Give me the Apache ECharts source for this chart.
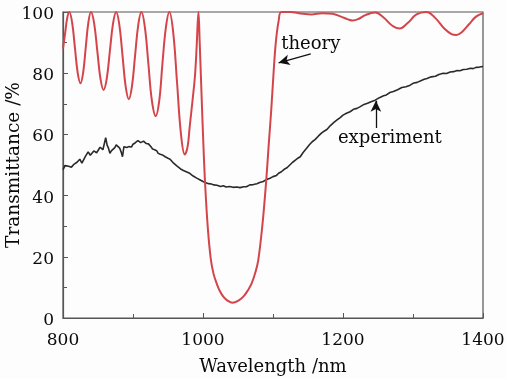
<!DOCTYPE html>
<html>
<head>
<meta charset="utf-8">
<script src="https://cdn.jsdelivr.net/npm/echarts@6/dist/echarts.min.js"></script>
<style>
  html, body { margin: 0; padding: 0; background: #fdfdfd; }
  #chart { width: 506px; height: 379px; }
</style>
</head>
<body>
<div id="chart"></div>
<script>
// Calculated transmittance spectrum (nm, %)
const theoryWavelength = [
  800, 803, 806, 809, 813, 817, 821, 825, 828.75, 832.5, 836.25, 840,
  844.5, 849, 853.5, 858, 862.5, 867, 871.5, 876, 880.5, 885, 889.5, 894,
  898.5, 903, 907.5, 912, 917, 922, 927, 932.5, 937.5, 942, 947, 952,
  957.5, 963, 968.5, 974, 978, 981, 985, 988.5, 991, 993.5,
  995.3, 997, 1000.5, 1003, 1006.7, 1011, 1015, 1019.5, 1024, 1029, 1035, 1042,
  1050, 1057.6, 1064, 1069.5, 1075, 1079, 1084.7, 1090, 1094, 1097.5, 1100.5, 1104, 1108, 1112,
  1125, 1140, 1155, 1170, 1185, 1198, 1207, 1214, 1222, 1232, 1246, 1258, 1270, 1281,
  1292, 1305, 1319, 1332, 1345, 1355, 1362, 1370, 1380, 1390, 1400
];
const theoryT = [
  88, 93, 98, 100, 96.6, 88.4, 80.1, 76.7, 80.1, 88.4, 96.6, 100,
  96.3, 87.3, 78.2, 74.5, 78.2, 87.3, 96.3, 100, 95.8, 85.8, 75.7, 71.5,
  75.7, 85.8, 95.8, 100, 95, 83, 71, 66, 71, 83, 95, 100,
  93.2, 76.7, 60.2, 53.4, 56, 62.5, 71, 79, 89, 100,
  90, 79, 57, 44, 30, 19.5, 14.5, 11.3, 8.8, 7, 5.7, 5.0,
  5.6, 7, 9, 11.3, 15, 19, 30, 44, 57, 68, 79, 90, 97, 100,
  100, 99.5, 99.2, 99.6, 99.4, 98.4, 97.6, 97.2, 97.7, 99.0, 99.8, 98.2, 95.6, 94.6,
  96.3, 99.2, 100, 98, 94.5, 92.8, 92.5, 93.5, 96, 98.5, 99.6
];

// Measured transmittance spectrum (nm, %)
const expWavelength = [800, 803, 805, 808, 812, 816, 820, 824, 827, 829, 832, 836, 839, 841, 844, 846, 848, 850, 853, 855, 857, 859, 861, 863, 865, 867, 869, 871, 874, 876, 878, 881, 883, 885, 887, 889, 891, 894, 896, 898, 900, 903, 905, 907, 909, 911, 912, 915, 917, 919, 920, 922, 924, 926, 928, 931, 934, 936, 939, 942, 946, 948, 950, 953, 955, 958, 960, 963, 965, 968, 972, 976, 981, 986, 991, 996, 1000, 1003, 1008, 1012, 1015, 1020, 1025, 1029, 1033, 1038, 1043, 1048, 1053, 1058, 1062, 1067, 1072, 1077, 1081, 1086, 1091, 1095, 1100, 1105, 1108, 1112, 1116, 1120, 1124, 1128, 1132, 1136, 1139, 1143, 1148, 1152, 1156, 1160, 1165, 1170, 1174, 1177, 1182, 1187, 1192, 1196, 1200, 1205, 1210, 1215, 1220, 1224, 1230, 1235, 1240, 1246, 1252, 1258, 1262, 1267, 1272, 1278, 1284, 1290, 1296, 1300, 1306, 1312, 1316, 1320, 1326, 1332, 1337, 1343, 1348, 1353, 1358, 1363, 1367, 1372, 1377, 1382, 1386, 1390, 1395, 1400];
const expT = [48.5, 49.8, 50.2, 49.6, 49.3, 50.3, 50.9, 51.9, 50.6, 51.0, 52.8, 54.3, 53.2, 52.7, 54.6, 55.2, 54.0, 54.3, 55.8, 56.3, 55.0, 54.9, 58.9, 56.5, 55.5, 53.8, 54.6, 55.2, 55.7, 56.6, 56.3, 55.5, 54.3, 52.7, 56.0, 55.4, 55.7, 56.0, 56.3, 55.9, 56.8, 57.2, 57.6, 58.0, 58.5, 57.3, 57.1, 57.8, 57.6, 57.0, 56.5, 56.9, 56.8, 55.9, 55.2, 55.0, 54.6, 53.8, 53.5, 53.3, 52.7, 52.5, 52.2, 51.9, 51.3, 50.6, 50.0, 49.6, 49.4, 48.7, 48.2, 47.8, 47.3, 46.4, 45.7, 45.1, 44.6, 44.3, 43.9, 43.8, 43.5, 43.4, 43.0, 43.2, 42.8, 43.0, 42.7, 42.8, 42.6, 42.9, 42.9, 43.5, 43.6, 43.9, 44.3, 44.6, 45.3, 45.6, 46.2, 46.6, 47.3, 47.8, 48.6, 49.1, 50.0, 50.9, 51.6, 52.3, 52.7, 54.1, 55.5, 56.6, 57.6, 58.3, 59.5, 60.6, 61.2, 61.6, 62.9, 63.9, 64.8, 65.5, 66.3, 66.9, 67.4, 68.2, 68.5, 69.0, 69.8, 70.2, 70.7, 71.2, 72.0, 72.6, 72.9, 73.7, 74.0, 74.6, 75.3, 75.6, 76.1, 76.7, 77.0, 77.6, 78.0, 78.3, 78.8, 79.0, 79.6, 80.0, 79.9, 80.4, 80.5, 80.9, 80.8, 81.2, 81.3, 81.6, 81.5, 81.9, 82.0, 82.2];

// Annotation anchors (data coordinates)
const theoryArrow = [[1154, 86.3], [1108, 83.4]];
const expArrow = [[1247, 62.1], [1247, 71.0]];
const theoryLabelAt = [1154, 89.3];
const expLabelAt = [1267, 58.8];

const FONT = 'DejaVu Serif';
const AXIS_COLOR = '#555';
const TEXT_COLOR = '#0a0a0a';

const chart = echarts.init(document.getElementById('chart'), null, { renderer: 'canvas' });

const toPairs = (xs, ys) => xs.map((x, i) => [x, ys[i]]);

const option = {
  animation: false,
  backgroundColor: '#fdfdfd',
  grid: {
    left: 63, right: 23, top: 12, bottom: 61,
    outerBoundsMode: 'none',
    containLabel: false,
    show: true, borderColor: AXIS_COLOR, borderWidth: 1.2,
    backgroundColor: 'transparent'
  },
  xAxis: {
    type: 'value', min: 800, max: 1400, interval: 200,
    name: 'Wavelength /nm', nameLocation: 'middle', nameGap: 40,
    nameMoveOverlap: false,
    nameTextStyle: { fontFamily: FONT, fontSize: 18, color: TEXT_COLOR },
    axisLine: { lineStyle: { color: AXIS_COLOR, width: 1.2 } },
    axisTick: { inside: true, length: 5, lineStyle: { color: AXIS_COLOR } },
    minorTick: { show: true, splitNumber: 2, length: 4, lineStyle: { color: AXIS_COLOR } },
    axisLabel: { fontFamily: FONT, fontSize: 17, color: TEXT_COLOR, margin: 14,
      formatter: v => String(v) },
    splitLine: { show: false }
  },
  yAxis: {
    type: 'value', min: 0, max: 100, interval: 20,
    name: 'Transmittance /%', nameLocation: 'middle', nameGap: 39,
    nameMoveOverlap: false,
    nameTextStyle: { fontFamily: FONT, fontSize: 18.5, color: TEXT_COLOR },
    axisLine: { show: true, lineStyle: { color: AXIS_COLOR, width: 1.2 } },
    axisTick: { show: true, inside: true, length: 5, lineStyle: { color: AXIS_COLOR } },
    minorTick: { show: true, splitNumber: 2, length: 4, lineStyle: { color: AXIS_COLOR } },
    axisLabel: { fontFamily: FONT, fontSize: 17, color: TEXT_COLOR, margin: 9,
      verticalAlign: 'top', padding: [-6, 0, 0, 0] },
    splitLine: { show: false }
  },
  series: [
    {
      name: 'experiment', type: 'line', showSymbol: false, symbol: 'none',
      data: toPairs(expWavelength, expT),
      lineStyle: { color: '#2a2a2a', width: 1.6 },
      markLine: {
        silent: true, symbol: ['none', 'arrow'], symbolSize: [8, 11],
        label: { show: false },
        lineStyle: { color: '#111', width: 1.3, type: 'solid' },
        data: [[{ coord: expArrow[0] }, { coord: expArrow[1] }]]
      },
      z: 2
    },
    {
      name: 'theory', type: 'line', showSymbol: false, symbol: 'none',
      smooth: 0.4,
      data: toPairs(theoryWavelength, theoryT),
      lineStyle: { color: '#d4454b', width: 2 },
      markLine: {
        silent: true, symbol: ['none', 'arrow'], symbolSize: [8, 11],
        label: { show: false },
        lineStyle: { color: '#111', width: 1.3, type: 'solid' },
        data: [[{ coord: theoryArrow[0] }, { coord: theoryArrow[1] }]]
      },
      z: 3
    }
  ]
};

chart.setOption(option);

// Place the text annotations at their data positions
const tp = chart.convertToPixel({ gridIndex: 0 }, theoryLabelAt);
const ep = chart.convertToPixel({ gridIndex: 0 }, expLabelAt);
chart.setOption({
  graphic: [
    { type: 'text', x: tp[0], y: tp[1], style: { text: 'theory', font: '18px "DejaVu Serif"', fill: TEXT_COLOR, align: 'center', verticalAlign: 'middle' } },
    { type: 'text', x: ep[0], y: ep[1], style: { text: 'experiment', font: '18px "DejaVu Serif"', fill: TEXT_COLOR, align: 'center', verticalAlign: 'middle' } }
  ]
});
</script>
</body>
</html>
